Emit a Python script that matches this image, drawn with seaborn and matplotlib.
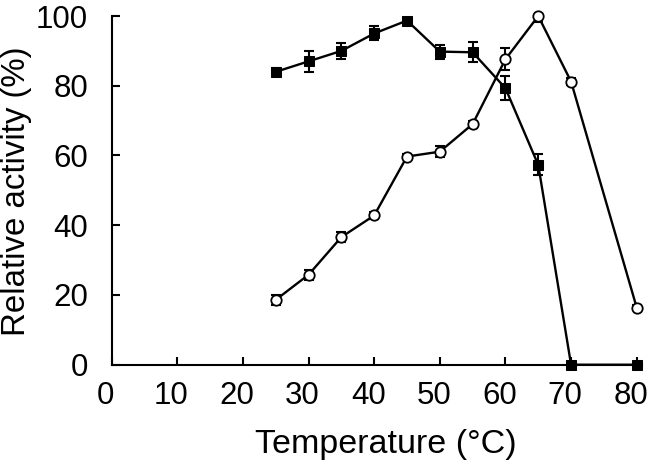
import numpy as np
import pandas as pd
import matplotlib
matplotlib.use("Agg")
import matplotlib.pyplot as plt
import matplotlib.transforms as mtransforms
import seaborn as sns

temps_sq = [25, 30, 35, 40, 45, 50, 55, 60, 65, 70, 80]
act_sq = [84.0, 87.0, 90.0, 95.0, 98.7, 89.8, 89.6, 79.3, 57.3, 0.0, 0.0]
err_sq = [1.0, 3.0, 2.3, 2.0, 0.8, 2.0, 2.9, 3.5, 3.0, 0.0, 0.0]

temps_ci = [25, 30, 35, 40, 45, 50, 55, 60, 65, 70, 80]
act_ci = [18.6, 25.8, 36.6, 42.8, 59.7, 61.1, 69.0, 87.6, 100.0, 81.2, 16.4]
err_ci = [1.5, 1.5, 1.5, 1.0, 0.8, 1.5, 1.0, 3.2, 1.8, 1.0, 0.8]

x_ticks = [0, 10, 20, 30, 40, 50, 60, 70, 80]
y_ticks = [0, 20, 40, 60, 80, 100]

sns.set_style("ticks")
plt.rcParams['font.family'] = ['Liberation Sans', 'DejaVu Sans']
plt.rcParams.update({
    "text.color": "black", "axes.labelcolor": "black",
    "xtick.color": "black", "ytick.color": "black",
    "axes.edgecolor": "black",
})

fig = plt.figure(figsize=(6.5, 4.62), dpi=100)
ax = fig.add_axes([0.1718, 0.2106, 0.8154, 0.7547])

df_sq = pd.DataFrame({"T": temps_sq, "A": act_sq})
df_ci = pd.DataFrame({"T": temps_ci, "A": act_ci})

ax.errorbar(temps_sq, act_sq, yerr=err_sq, fmt="none", ecolor="black",
            elinewidth=1.5, capsize=3.5, capthick=1.5, zorder=2)
ax.errorbar(temps_ci, act_ci, yerr=err_ci, fmt="none", ecolor="black",
            elinewidth=1.5, capsize=3.5, capthick=1.5, zorder=2)

sns.lineplot(data=df_sq, x="T", y="A", ax=ax, color="black", lw=1.7,
             marker="s", markersize=7.5, markerfacecolor="black",
             markeredgecolor="black", zorder=3, clip_on=False)
sns.lineplot(data=df_ci, x="T", y="A", ax=ax, color="black", lw=1.7,
             marker="o", markersize=7.5, markerfacecolor="white",
             markeredgecolor="black", markeredgewidth=1.3, zorder=4, clip_on=False)

ax.set_xlim(0, 80.76)
ax.set_ylim(0, 100)
ax.set_xticks(x_ticks)
ax.set_yticks(y_ticks)
ax.tick_params(direction="in", length=5.5, width=1.5, labelsize=22.5,
               color="black", labelcolor="black")
ax.tick_params(axis="x", pad=12)
ax.tick_params(axis="y", pad=17)
for s in ["top", "right"]:
    ax.spines[s].set_visible(False)
for s in ["left", "bottom"]:
    ax.spines[s].set_linewidth(1.5)
    ax.spines[s].set_color("black")

shift = mtransforms.ScaledTranslation(-6 / 100, 0, fig.dpi_scale_trans)
for lab in ax.get_xticklabels():
    lab.set_transform(lab.get_transform() + shift)

ax.set_xlabel("Temperature (°C)", fontsize=24.5, color="black")
ax.set_ylabel("Relative activity (%)", fontsize=23.8, color="black")
ax.xaxis.set_label_coords(0.5175, -0.185)
ax.yaxis.set_label_coords(-0.150, 0.498)

fig.savefig("out.png", dpi=100)
